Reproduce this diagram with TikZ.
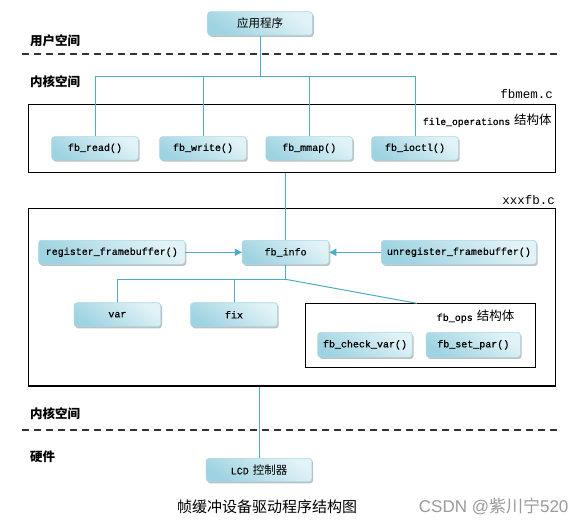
\documentclass[tikz,border=0pt]{standalone}
\usepackage{fontspec}
\setmainfont{Liberation Mono}[FakeBold=0.7]
\newfontfamily\plainmono{Liberation Mono}
\newfontfamily\cjk{Noto Sans CJK SC}
\newfontfamily\wmfont{Liberation Sans}
\usetikzlibrary{arrows.meta,shadows}
\definecolor{wirec}{HTML}{4BACC6}
\definecolor{boxlight}{HTML}{E2F3F7}
\definecolor{boxdark}{HTML}{9ED3E1}
\definecolor{boxedge}{HTML}{A9D8E4}
\definecolor{wmgray}{HTML}{9A9A9A}
\tikzset{
  fbbox/.style={rounded corners=3pt, draw=boxedge, line width=0.6pt,
    top color=boxlight, bottom color=boxdark, shading angle=-35,
    minimum height=23.5pt, inner sep=0pt, font=\fontsize{10}{12}\selectfont,
    drop shadow={shadow xshift=1.3pt, shadow yshift=-1.6pt, fill=black!55, opacity=0.45}},
  bigbox/.style={draw=black, line width=1.3pt, inner sep=0pt},
  opsframe/.style={draw=black, line width=1.1pt, inner sep=0pt},
  wire/.style={draw=wirec, line width=1pt},
  arr/.style={wire, -{Triangle[length=7pt,width=7pt]}, wirec},
  lab/.style={anchor=west, inner sep=0pt, font=\cjk\bfseries\fontsize{12.5}{14}\selectfont},
  fname/.style={anchor=east, inner sep=0pt, font=\plainmono\fontsize{12.5}{14}\selectfont},
  sepline/.style={draw=black!80, line width=1.6pt, dash pattern=on 7pt off 5pt},
}
\begin{document}
\begin{tikzpicture}[x=1pt,y=-1pt]
\useasboundingbox (0,0) rectangle (586,523);

% user space
\node[fbbox, minimum width=105pt, font=\cjk\fontsize{11.5}{13}\selectfont] (app) at (260,23.5) {应用程序};
\node[lab] (ulab) at (30,40.7) {用户空间};
\draw[sepline] (22.4,54) -- (557,54);
\node[lab] (klab1) at (30,81.7) {内核空间};

% fbmem.c
\node[fname] (fbmem) at (553,94) {fbmem.c};
\node[bigbox, minimum width=526.8pt, minimum height=68pt] (box1) at (292.1,138.3) {};
\node[anchor=west, inner sep=0pt, font=\fontsize{9.7}{12}\selectfont] (fops) at (422.7,120.7) {file\_operations\hspace{-2pt} {\cjk\fontsize{12.5}{14}\selectfont 结构体}};

\node[fbbox, minimum width=86.7pt] (fbread) at (95,148.3) {fb\_read()};
\node[fbbox, minimum width=86.7pt] (fbwrite) at (203,148.3) {fb\_write()};
\node[fbbox, minimum width=86.7pt] (fbmmap) at (309.2,148.3) {fb\_mmap()};
\node[fbbox, minimum width=86.7pt] (fbioctl) at (415,148.3) {fb\_ioctl()};

\coordinate (j1) at (260.7,76);
\draw[wire] (app.south) -- (app.south |- j1);
\draw[wire] (fbread.north |- j1) -- (fbioctl.north |- j1);
\draw[wire] (fbread.north |- j1) -- (fbread.north);
\draw[wire] (fbwrite.north |- j1) -- (fbwrite.north);
\draw[wire] (fbmmap.north |- j1) -- (fbmmap.north);
\draw[wire] (fbioctl.north |- j1) -- (fbioctl.north);

% xxxfb.c
\node[fname] (xxxfb) at (555,200) {xxxfb.c};
\node[bigbox, minimum width=526.8pt, minimum height=177.4pt] (box2) at (292.1,297.3) {};

\node[fbbox, minimum width=146.5pt, minimum height=24pt] (reg) at (111.8,252.3) {register\_framebuffer()};
\node[fbbox, minimum width=86.8pt, minimum height=24pt] (fbinfo) at (285.6,252.3) {fb\_info};
\node[fbbox, minimum width=155pt, minimum height=24pt] (unreg) at (458.9,252.3) {unregister\_framebuffer()};

\draw[wire] (box1.south -| fbinfo.north) -- (fbinfo.north);
\draw[arr] (reg.east) -- (fbinfo.west);
\draw[arr] (unreg.west) -- (fbinfo.east);

\node[fbbox, minimum width=86.7pt, minimum height=24pt] (var) at (117.4,314.7) {var};
\node[fbbox, minimum width=86.7pt, minimum height=24pt] (fix) at (234,314.7) {fix};

\node[opsframe, minimum width=230.3pt, minimum height=64pt] (ops) at (420.5,335.3) {};
\node[anchor=west, inner sep=0pt, font=\fontsize{10}{12}\selectfont] (opslab) at (436.6,316.7) {fb\_ops\hspace{-2pt} {\cjk\fontsize{12.5}{14}\selectfont 结构体}};
\node[fbbox, minimum width=94.5pt, minimum height=25pt] (chk) at (365,344.8) {fb\_check\_var()};
\node[fbbox, minimum width=94.2pt, minimum height=25pt] (setpar) at (473.3,344.8) {fb\_set\_par()};

\coordinate (j2) at (285.6,279.3);
\coordinate (opsin) at (416.8,303.3);
\draw[wire] (fbinfo.south) -- (j2) -| (var.north);
\draw[wire] (fix.north |- j2) -- (fix.north);
\draw[wire] (j2) -- (opsin);

% hardware
\node[lab] (klab2) at (30,413.3) {内核空间};
\draw[sepline] (22.4,430) -- (557,430);
\node[lab] (hwlab) at (30,456.7) {硬件};
\node[fbbox, minimum width=105.7pt, minimum height=23.4pt] (lcd) at (259,470) {LCD\hspace{-2pt} {\cjk\fontsize{11.5}{13}\selectfont 控制器}};
\draw[wire] (box2.south -| lcd.north) -- (lcd.north);

% caption and watermark
\node[inner sep=0pt, font=\cjk\fontsize{15}{18}\selectfont] (cap) at (267,507) {帧缓冲设备驱动程序结构图};
\node[anchor=west, inner sep=0pt, text=wmgray, font=\fontsize{17}{20}\selectfont] (wm) at (418.7,506) {\wmfont CSDN @{\cjk 紫川宁}520};
\end{tikzpicture}
\end{document}
